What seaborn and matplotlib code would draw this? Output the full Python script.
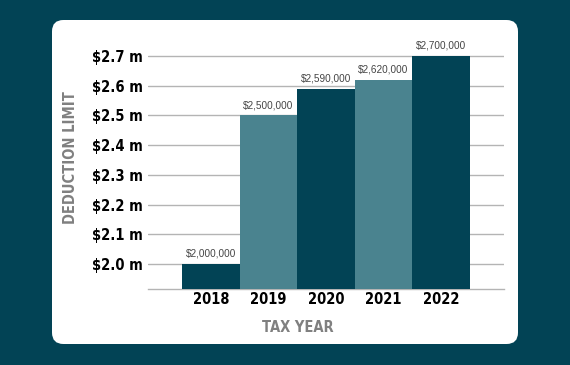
import matplotlib
matplotlib.use("Agg")
import matplotlib.pyplot as plt
from matplotlib.patches import FancyBboxPatch
import seaborn as sns
import pandas as pd

# chart data
years = ["2018", "2019", "2020", "2021", "2022"]
limits = [2000000, 2500000, 2590000, 2620000, 2700000]
ytick_vals = [2.0, 2.1, 2.2, 2.3, 2.4, 2.5, 2.6, 2.7]
ytick_labels = ["$2.0 m", "$2.1 m", "$2.2 m", "$2.3 m", "$2.4 m", "$2.5 m", "$2.6 m", "$2.7 m"]

dark = "#024355"
light = "#4a838f"

df = pd.DataFrame({"year": years, "limit": [v / 1e6 for v in limits]})

sns.set_style("white")
plt.rcParams['font.family'] = ['DejaVu Sans']
plt.rcParams['font.stretch'] = 'condensed'

fig = plt.figure(figsize=(5.7, 3.65), dpi=100)
fig.patch.set_facecolor(dark)

# white rounded card
card = FancyBboxPatch((52 / 570, (365 - 344) / 365), 466 / 570, 324 / 365,
                      boxstyle="round,pad=0,rounding_size=0.02",
                      transform=fig.transFigure, facecolor="white",
                      edgecolor="none", zorder=-5, mutation_aspect=570 / 365)
fig.patches.append(card)

ax = fig.add_axes([148 / 570, 76 / 365, 356 / 570, 248 / 365])
ax.set_zorder(2)
ax.set_facecolor("none")

sns.barplot(data=df, x="year", y="limit", hue="year",
            palette=[dark, light, dark, light, dark], width=1.0,
            legend=False, ax=ax, saturation=1, linewidth=0, zorder=3)

ax.set_ylim(1.916, 2.75)
ax.set_xlim(-1.1, 5.1)
ax.set_yticks(ytick_vals)
ax.set_yticklabels([t.replace("$", "\\$") for t in ytick_labels],
                   fontsize=10.5, fontweight="bold", color="black")
ax.tick_params(axis="x", labelsize=10.5, colors="black", length=0, pad=2)
ax.tick_params(axis="y", length=0, pad=4)
for lab in ax.get_xticklabels():
    lab.set_fontweight("bold")

ax.grid(axis="y", color="#b4b4b4", linewidth=1, zorder=0)
ax.set_axisbelow(True)
for s in ["top", "right", "left"]:
    ax.spines[s].set_visible(False)
ax.spines["bottom"].set_color("#b4b4b4")
ax.spines["bottom"].set_linewidth(1)

for i, v in enumerate(limits):
    ax.text(i, v / 1e6 + 0.017, "\\$" + f"{v:,}", ha="center", va="bottom",
            fontsize=7.2, color="#444444", family=["Liberation Sans", "DejaVu Sans"],
            stretch="normal")

ax.set_xlabel("TAX YEAR", fontsize=10.5, fontweight="bold", color="#808080")
ax.set_ylabel("DEDUCTION LIMIT", fontsize=10.5, fontweight="bold", color="#808080")
ax.xaxis.set_label_coords((298 - 148) / 356, -(320 - 289) / 248)
ax.yaxis.set_label_coords((78 - 148) / 356, (289 - 158) / 248)

fig.savefig("out.png", dpi=100, facecolor=fig.get_facecolor())
